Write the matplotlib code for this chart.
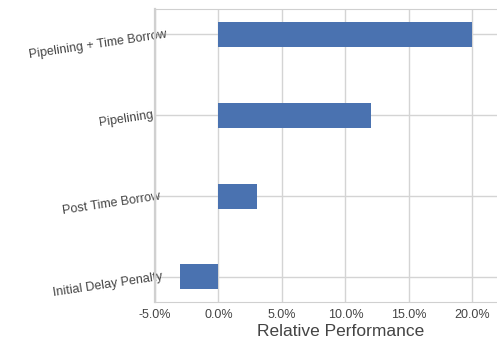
import matplotlib
matplotlib.use("Agg")
import matplotlib.pyplot as plt
from matplotlib.ticker import FuncFormatter, MultipleLocator
from matplotlib.transforms import ScaledTranslation

# ── data ──────────────────────────────────────────────────────────
categories = ["Initial Delay Penalty", "Post Time Borrow", "Pipelining",
              "Pipelining + Time Borrow"]
relative_perf = [-0.03, 0.03, 0.12, 0.20]

# ── style ─────────────────────────────────────────────────────────
BAR_COLOR = "#4a72b0"
GRID_COLOR = "#d4d4d4"
TEXT_COLOR = "#444444"

plt.rcParams["font.family"] = ["Liberation Sans", "DejaVu Sans"]

W, H, DPI = 497, 339, 100
fig = plt.figure(figsize=(W / DPI, H / DPI), dpi=DPI)
ax = fig.add_axes([155 / W, 1 - 302 / H, 1 - 155 / W, (302 - 9) / H])

y = list(range(len(categories)))
ax.barh(y, relative_perf, height=0.31, color=BAR_COLOR, zorder=3)

ax.set_xlim(-0.05, 0.2193)
ax.set_ylim(-0.31, 3.315)
ax.xaxis.set_major_locator(MultipleLocator(0.05))
ax.xaxis.set_major_formatter(FuncFormatter(lambda v, _: f"{v * 100:.1f}%"))

ax.grid(True, axis="both", color=GRID_COLOR, linewidth=1.0, zorder=0)
ax.set_axisbelow(True)
ax.tick_params(length=0, colors=TEXT_COLOR)
ax.tick_params(axis="x", pad=5, labelsize=9)

for side in ("top", "bottom", "left"):
    ax.spines[side].set_color("#d0d0d0")
ax.spines["left"].set_linewidth(1.6)
ax.spines["right"].set_visible(False)

ax.set_yticks(y)
ax.set_yticklabels(categories, fontsize=9, rotation=8.5,
                   rotation_mode="anchor", ha="right", va="baseline",
                   color=TEXT_COLOR)

ax.set_xlabel("Relative Performance", fontsize=12.5, color=TEXT_COLOR)
ax.xaxis.set_label_coords((341 - 155) / (W - 155), -0.076)
ax.xaxis.label.set_va("top")

# slanted labels: right end sits past the axis line, more so for long ones
fig.canvas.draw()
renderer = fig.canvas.get_renderer()
for lab in ax.get_yticklabels():
    w = lab.get_window_extent(renderer).width
    dx = (-5 + 0.16 * w) / DPI
    lab.set_transform(lab.get_transform()
                      + ScaledTranslation(dx, -3 / DPI, fig.dpi_scale_trans))

fig.savefig("out.png", dpi=DPI, facecolor="white")
